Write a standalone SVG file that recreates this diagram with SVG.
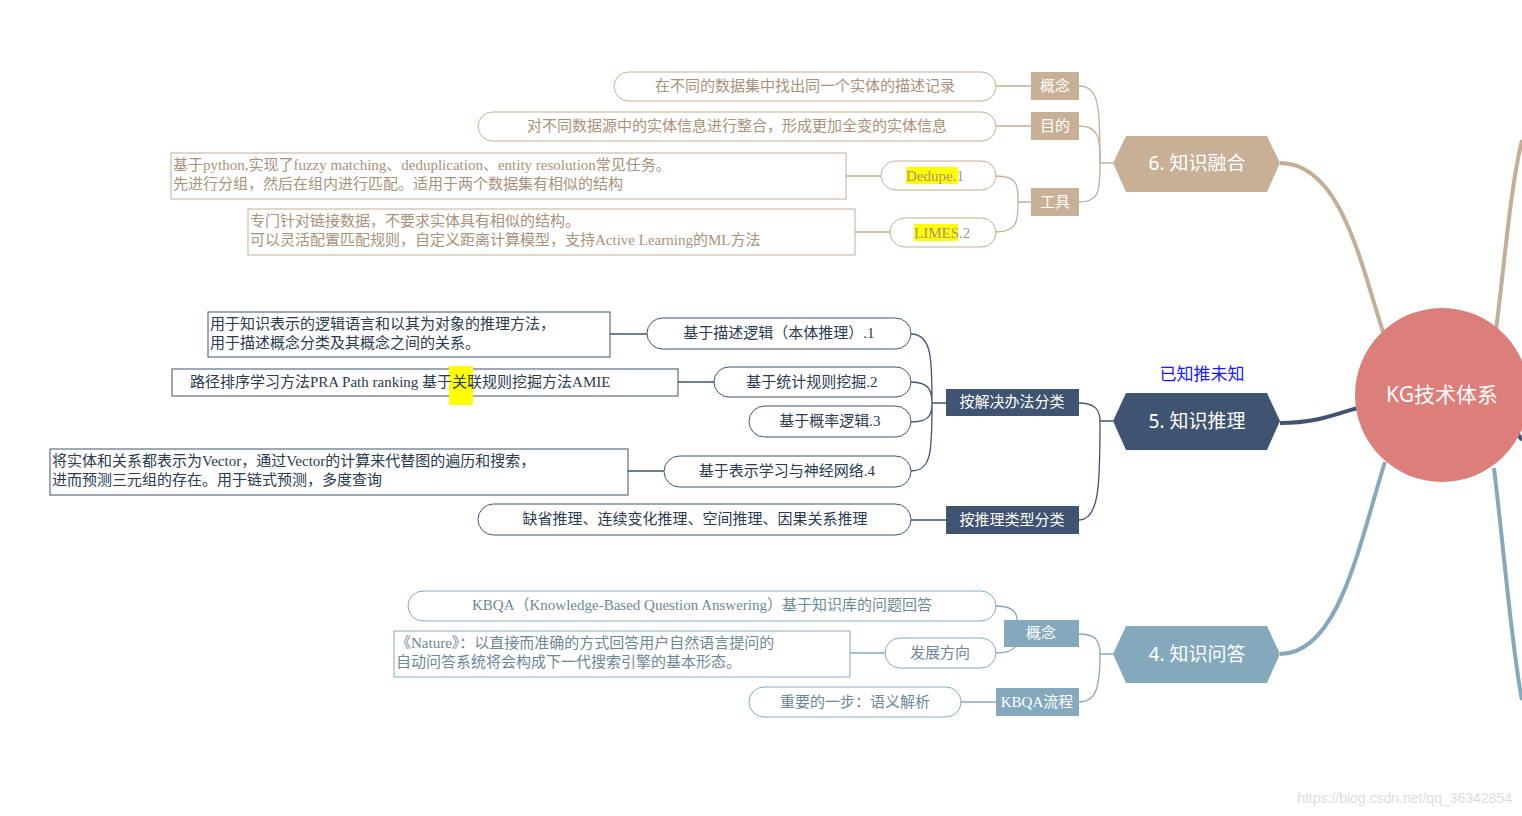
<svg xmlns="http://www.w3.org/2000/svg" width="1522" height="816" viewBox="0 0 1522 816">
<style>
.t{font-family:"Liberation Serif","Noto Sans CJK SC",serif;font-size:15px}
.h{font-family:"Noto Sans","Noto Sans CJK SC",sans-serif;font-size:19px;fill:#fff;text-anchor:middle}
.lab{font-family:"Liberation Serif","Noto Sans CJK SC",serif;font-size:15px;fill:#fff;text-anchor:middle}
.tanS{stroke:#C5AE96;fill:#fff}.tanT{fill:#A8927C}
.navS{stroke:#3F5470;fill:#fff}.navT{fill:#2a3a50}
.tealS{stroke:#84A9BD;fill:#fff}.tealT{fill:#6d8796}
.c{fill:none;stroke-width:1.3}
</style>
<rect width="1522" height="816" fill="#fff"/>
<g id="connectors">
<path d="M1280,163 C1340,163 1360,260 1383,332" stroke="#C5AE96" stroke-width="4" fill="none"/>
<path d="M1496,330 C1505,260 1510,190 1522,140" stroke="#C5AE96" stroke-width="4" fill="none"/>
<path d="M1280,423 C1320,423 1340,412 1358,408" stroke="#3F5470" stroke-width="4" fill="none"/>
<path d="M1515,430 L1522,440" stroke="#3F5470" stroke-width="4" fill="none"/>
<path d="M1280,654 C1340,654 1360,540 1385,462" stroke="#84A9BD" stroke-width="4" fill="none"/>
<path d="M1494,468 C1505,560 1512,650 1522,700" stroke="#84A9BD" stroke-width="4" fill="none"/>
<g class="c" stroke="#C5AE96">
<path d="M1113,163 H1100 C1100,110 1100,86 1079,86"/>
<path d="M1100,163 C1100,140 1100,126 1079,126"/>
<path d="M1100,163 C1100,190 1100,202 1079,202"/>
<path d="M1031,86 H996 M1031,126 H996"/>
<path d="M1031,202 H1018 C1018,185 1018,176 996,176 M1018,202 C1018,220 1018,232 996,232"/>
<path d="M881,176 H846 M890,232 H855"/>
</g>
<g class="c" stroke="#3F5470">
<path d="M1113,421 H1100 C1100,410 1095,403 1079,403 M1100,421 C1100,480 1100,520 1079,520"/>
<path d="M946,403 H932 C932,360 932,334 911,334 M932,403 C932,392 930,382 911,382 M932,403 C932,414 930,422 911,422 M932,403 C932,450 932,471 911,471"/>
<path d="M946,520 H911"/>
<path d="M647,334 H610 M714,382 H678 M664,471 H628"/>
</g>
<g class="c" stroke="#84A9BD">
<path d="M1113,654 H1100 C1100,640 1095,634 1079,634 M1100,654 C1100,690 1095,702 1079,702"/>
<path d="M1004,634 H1018 C1018,615 1018,606 996,606 M1018,634 C1018,645 1016,653 996,653"/>
<path d="M885,653 H850 M996,702 H961"/>
</g>
</g>
<g id="root"><circle cx="1442" cy="395" r="87" fill="#DC7E79"/><text class="h" x="1442" y="402" style="font-size:21px">KG技术体系</text></g>
<g id="fusion"><polygon points="1126,136 1267,136 1280,163 1267,192 1126,192 1113,163" fill="#C8B097"/><text class="h" x="1197" y="170">6. 知识融合</text></g>
<g id="reason"><polygon points="1126,393 1267,393 1280,421 1267,450 1126,450 1113,421" fill="#3F5470"/><text class="h" x="1197" y="428">5. 知识推理</text>
<text class="t" x="1202" y="380" fill="#1a1aff" text-anchor="middle" style="font-size:17px">已知推未知</text></g>
<g id="qa"><polygon points="1126,626 1267,626 1280,654 1267,683 1126,683 1113,654" fill="#84A9BD"/><text class="h" x="1197" y="661">4. 知识问答</text></g>
<g id="f-labels">
<rect x="1031" y="72" width="48" height="28" fill="#C8B097"/><text class="lab" x="1055" y="91">概念</text>
<rect x="1031" y="112" width="48" height="28" fill="#C8B097"/><text class="lab" x="1055" y="131">目的</text>
<rect x="1031" y="188" width="48" height="28" fill="#C8B097"/><text class="lab" x="1055" y="207">工具</text>
</g>
<g id="f-leaves">
<rect class="tanS" x="614" y="72" width="382" height="29" rx="14.5"/><text class="t tanT" x="805" y="91" text-anchor="middle">在不同的数据集中找出同一个实体的描述记录</text>
<rect class="tanS" x="478" y="112" width="518" height="29" rx="14.5"/><text class="t tanT" x="737" y="131" text-anchor="middle">对不同数据源中的实体信息进行整合，形成更加全变的实体信息</text>
<rect class="tanS" x="881" y="161" width="115" height="29" rx="14.5"/><rect x="906" y="167" width="52" height="17" fill="#ff0"/><text class="t tanT" x="906" y="181">Dedupe.1</text>
<rect class="tanS" x="890" y="218" width="106" height="29" rx="14.5"/><rect x="914" y="224" width="44" height="17" fill="#ff0"/><text class="t tanT" x="914" y="238">LIMES.2</text>
<rect class="tanS" x="171" y="153" width="675" height="46"/><text class="t tanT" x="173" y="170">基于python,实现了fuzzy matching、deduplication、entity resolution常见任务。</text><text class="t tanT" x="173" y="189">先进行分组，然后在组内进行匹配。适用于两个数据集有相似的结构</text>
<rect class="tanS" x="248" y="209" width="607" height="46"/><text class="t tanT" x="250" y="226">专门针对链接数据，不要求实体具有相似的结构。</text><text class="t tanT" x="250" y="245">可以灵活配置匹配规则，自定义距离计算模型，支持Active Learning的ML方法</text>
</g>
<g id="r-labels">
<rect x="946" y="389" width="133" height="27" fill="#3F5470"/><text class="lab" x="1012" y="407">按解决办法分类</text>
<rect x="946" y="506" width="133" height="28" fill="#3F5470"/><text class="lab" x="1012" y="525">按推理类型分类</text>
</g>
<g id="r-leaves">
<rect class="navS" x="647" y="318" width="264" height="31" rx="15.5"/><text class="t navT" x="779" y="338" text-anchor="middle">基于描述逻辑（本体推理）.1</text>
<rect class="navS" x="714" y="367" width="197" height="30" rx="15"/><text class="t navT" x="812" y="387" text-anchor="middle">基于统计规则挖掘.2</text>
<rect class="navS" x="749" y="406" width="162" height="31" rx="15.5"/><text class="t navT" x="830" y="426" text-anchor="middle">基于概率逻辑.3</text>
<rect class="navS" x="664" y="456" width="247" height="31" rx="15.5"/><text class="t navT" x="787" y="476" text-anchor="middle">基于表示学习与神经网络.4</text>
<rect class="navS" x="478" y="504" width="433" height="31" rx="15.5"/><text class="t navT" x="695" y="524" text-anchor="middle">缺省推理、连续变化推理、空间推理、因果关系推理</text>
<rect class="navS" x="208" y="312" width="402" height="45"/><text class="t navT" x="210" y="329">用于知识表示的逻辑语言和以其为对象的推理方法，</text><text class="t navT" x="210" y="348">用于描述概念分类及其概念之间的关系。</text>
<rect class="navS" x="172" y="369" width="506" height="27"/><rect x="449" y="366" width="24" height="39" fill="#ff0"/><text class="t navT" x="190" y="387">路径排序学习方法PRA Path ranking 基于关联规则挖掘方法AMIE</text>
<rect class="navS" x="50" y="449" width="578" height="46"/><text class="t navT" x="52" y="466">将实体和关系都表示为Vector，通过Vector的计算来代替图的遍历和搜索，</text><text class="t navT" x="52" y="485">进而预测三元组的存在。用于链式预测，多度查询</text>
</g>
<g id="q-labels">
<rect x="1004" y="620" width="75" height="27" fill="#84A9BD"/><text class="lab" x="1041" y="638">概念</text>
<rect x="996" y="688" width="83" height="28" fill="#84A9BD"/><text class="lab" x="1037" y="707">KBQA流程</text>
</g>
<g id="q-leaves">
<rect class="tealS" x="408" y="591" width="588" height="30" rx="15"/><text class="t tealT" x="702" y="610" text-anchor="middle">KBQA（Knowledge-Based Question Answering）基于知识库的问题回答</text>
<rect class="tealS" x="885" y="638" width="111" height="30" rx="15"/><text class="t tealT" x="940" y="658" text-anchor="middle">发展方向</text>
<rect class="tealS" x="394" y="631" width="456" height="46"/><text class="t tealT" x="396" y="648">《Nature》：以直接而准确的方式回答用户自然语言提问的</text><text class="t tealT" x="396" y="667">自动问答系统将会构成下一代搜索引擎的基本形态。</text>
<rect class="tealS" x="749" y="687" width="212" height="30" rx="15"/><text class="t tealT" x="855" y="707" text-anchor="middle">重要的一步：语义解析</text>
</g>
<text x="1512" y="803" text-anchor="end" style="font-family:'Liberation Sans',sans-serif;font-size:14px" fill="#dddddd">https://blog.csdn.net/qq_36342854</text>
</svg>
